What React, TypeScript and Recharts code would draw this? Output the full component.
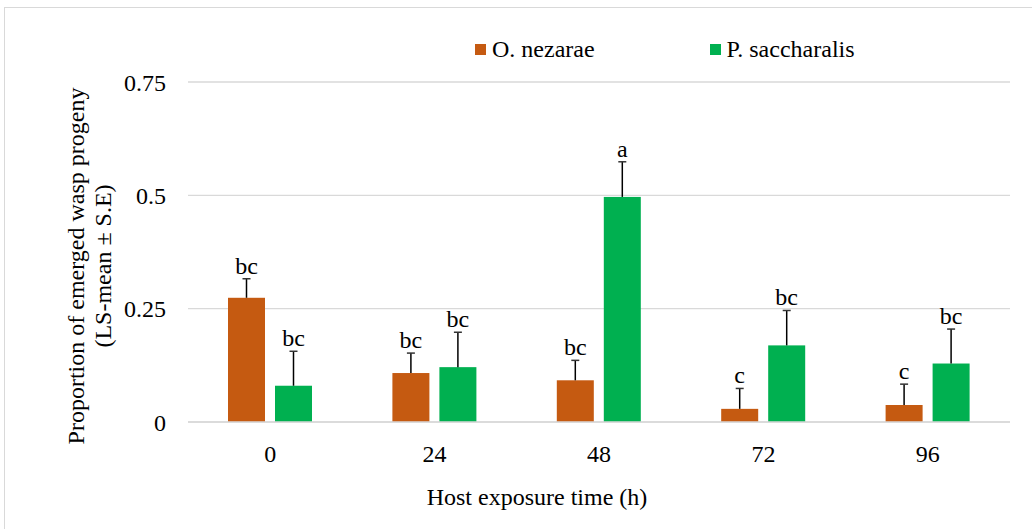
import React from 'react';
import { BarChart, Bar, XAxis, YAxis, CartesianGrid, Legend, Label } from 'recharts';

const categories = ['0', '24', '48', '72', '96'];
const nezarae = [0.274, 0.108, 0.092, 0.029, 0.0375];
const nezaraeSE = [0.042, 0.044, 0.044, 0.045, 0.046];
const nezaraeLetters = ['bc', 'bc', 'bc', 'c', 'c'];
const saccharalis = [0.08, 0.121, 0.4965, 0.169, 0.129];
const saccharalisSE = [0.076, 0.077, 0.0775, 0.077, 0.076];
const saccharalisLetters = ['bc', 'bc', 'a', 'bc', 'bc'];
const yTicks = [0, 0.25, 0.5, 0.75];

const data = categories.map((c, i) => ({
  time: c,
  on: nezarae[i],
  onSE: nezaraeSE[i],
  onL: nezaraeLetters[i],
  ps: saccharalis[i],
  psSE: saccharalisSE[i],
  psL: saccharalisLetters[i],
}));

const FONT = "'Liberation Serif', 'Times New Roman', serif";
const ORANGE = '#C55A11';
const GREEN = '#00B050';

// bar + upper error bar + significance letter
const makeShape = (valKey: string, errKey: string, letterKey: string) => (props: any) => {
  const { x, y, width, height, payload, fill } = props;
  const v = payload[valKey];
  const e = payload[errKey];
  const k = v ? height / v : 0;
  const cx = x + width / 2;
  const top = y - e * k;
  return (
    <g>
      <rect x={x} y={y} width={width} height={height} fill={fill} />
      <line x1={cx} y1={y} x2={cx} y2={top} stroke="#000" strokeWidth={1.5} />
      <line x1={cx - 4} y1={top} x2={cx + 4} y2={top} stroke="#333" strokeWidth={1.5} />
      <text x={cx} y={top - 5} textAnchor="middle" fontSize={24} style={{ fontFamily: FONT }} fill="#000">
        {payload[letterKey]}
      </text>
    </g>
  );
};

const AxisTick = (props: any) => {
  const { x, y, payload, textAnchor, dy } = props;
  return (
    <text x={x} y={y} dy={dy} textAnchor={textAnchor} fontSize={24} fill="#000" style={{ fontFamily: FONT }}>
      {payload.value}
    </text>
  );
};

const XTick = (props: any) => {
  const { x, y, payload } = props;
  return (
    <text x={x} y={y} dy="0.71em" textAnchor="middle" fontSize={24} fill="#000" style={{ fontFamily: FONT }}>
      {payload.value}
    </text>
  );
};

const YTick = (props: any) => {
  const { x, y, payload } = props;
  return (
    <text x={x} y={y} dy="0.355em" textAnchor="end" fontSize={24} fill="#000" style={{ fontFamily: FONT }}>
      {payload.value}
    </text>
  );
};

const LegendContent = (props: any) => {
  const { payload = [] } = props;
  return (
    <div style={{ display: 'flex', alignItems: 'center', paddingLeft: 475, gap: 115, fontFamily: FONT, fontSize: 24, color: '#000' }}>
      {payload.map((p: any) => (
        <div key={p.value} style={{ display: 'flex', alignItems: 'center' }}>
          <span style={{ width: 11, height: 11, background: p.color, marginRight: 6, display: 'inline-block' }} />
          <span style={{ fontFamily: FONT }}>{p.value}</span>
        </div>
      ))}
    </div>
  );
};

const XTitle = (props: any) => {
  const { viewBox } = props;
  return (
    <text x={viewBox.x + viewBox.width / 2 - 62} y={505} textAnchor="middle" fontSize={24} style={{ fontFamily: FONT }} fill="#000">
      Host exposure time (h)
    </text>
  );
};

const YTitle = () => (
  <g fontSize={24} fill="#000" style={{ fontFamily: FONT }}>
    <text x={84} y={266} textAnchor="middle" transform="rotate(-90, 84, 266)">
      Proportion of emerged wasp progeny
    </text>
    <text x={111} y={266} textAnchor="middle" transform="rotate(-90, 111, 266)">
      (LS-mean ± S.E)
    </text>
  </g>
);

export default function App() {
  return (
    <div style={{ position: 'absolute', left: 0, top: 0, width: 1032, height: 529, overflow: 'hidden', background: '#fff', fontFamily: FONT }}>
      <div style={{ position: 'absolute', left: 4, top: 7, width: 1100, height: 600, border: '1.3px solid #d9d9d9' }} />
      <div style={{ position: 'absolute', left: 0, top: 0 }}>
        <BarChart
          width={1032}
          height={529}
          data={data}
          margin={{ top: 82, right: 22, bottom: 0, left: 0 }}
          barSize={37}
          barGap={10}
          style={{ fontFamily: FONT }}
        >
          <CartesianGrid vertical={false} stroke="#d9d9d9" strokeWidth={1.3} />
          <XAxis
            dataKey="time"
            height={107}
            tickLine={false}
            tickSize={0}
            tickMargin={23}
            axisLine={{ stroke: '#d9d9d9', strokeWidth: 1.3 }}
            tick={XTick}
          >
            <Label content={XTitle} />
          </XAxis>
          <YAxis
            width={188}
            domain={[0, 0.75]}
            ticks={yTicks}
            axisLine={false}
            tickLine={false}
            tickSize={0}
            tickMargin={22}
            tick={YTick}
          >
            <Label content={YTitle} />
          </YAxis>
          <Legend
            layout="horizontal"
            verticalAlign="middle"
            align="center"
            content={LegendContent}
            wrapperStyle={{ top: 36, left: 0, width: 1032, height: 28 }}
          />
          <Bar dataKey="on" name="O. nezarae" fill={ORANGE} isAnimationActive={false} shape={makeShape('on', 'onSE', 'onL')} />
          <Bar dataKey="ps" name="P. saccharalis" fill={GREEN} isAnimationActive={false} shape={makeShape('ps', 'psSE', 'psL')} />
        </BarChart>
      </div>
    </div>
  );
}
